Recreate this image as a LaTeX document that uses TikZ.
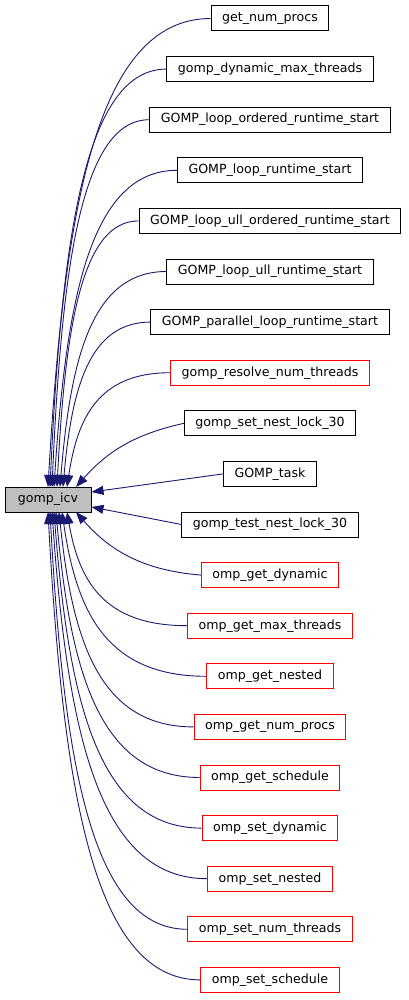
\documentclass[tikz,border=0pt]{standalone}
\usepackage{fontspec}
\setmainfont{DejaVu Sans}
\usetikzlibrary{calc,arrows.meta}
\definecolor{edgeblue}{HTML}{191970}

\begin{document}
\begin{tikzpicture}[x=1pt,y=-1pt,fn/.style = {draw=black, line width=1pt, minimum height=25pt, inner xsep=11pt, font=\fontsize{12.6}{15}\selectfont}, fnred/.style = {fn, draw=red}, edge/.style = {draw=edgeblue, line width=0.9pt, {Triangle[length=12pt,width=9pt]}-}]
\useasboundingbox (0,0) rectangle (408,1000);
\node (icv) [fn, fill=black!25, minimum width=86pt, inner xsep=0pt] at (48,499.5) {gomp\_icv};
\node (n1) [fn] at (270,18.5) {get\_num\_procs};
\node (n2) [fn] at (270,69.1) {gomp\_dynamic\_max\_threads};
\node (n3) [fn] at (270,119.7) {GOMP\_loop\_ordered\_runtime\_start};
\node (n4) [fn] at (270,170.3) {GOMP\_loop\_runtime\_start};
\node (n5) [fn] at (270,220.9) {GOMP\_loop\_ull\_ordered\_runtime\_start};
\node (n6) [fn] at (270,271.5) {GOMP\_loop\_ull\_runtime\_start};
\node (n7) [fn] at (270,322.1) {GOMP\_parallel\_loop\_runtime\_start};
\node (n8) [fnred] at (270,372.7) {gomp\_resolve\_num\_threads};
\node (n9) [fn] at (270,423.3) {gomp\_set\_nest\_lock\_30};
\node (n10) [fn] at (270,473.9) {GOMP\_task};
\node (n11) [fn] at (270,524.5) {gomp\_test\_nest\_lock\_30};
\node (n12) [fnred] at (270,575.1) {omp\_get\_dynamic};
\node (n13) [fnred] at (270,625.7) {omp\_get\_max\_threads};
\node (n14) [fnred] at (270,676.3) {omp\_get\_nested};
\node (n15) [fnred] at (270,726.9) {omp\_get\_num\_procs};
\node (n16) [fnred] at (270,777.5) {omp\_get\_schedule};
\node (n17) [fnred] at (270,828.1) {omp\_set\_dynamic};
\node (n18) [fnred] at (270,878.7) {omp\_set\_nested};
\node (n19) [fnred] at (270,929.3) {omp\_set\_num\_threads};
\node (n20) [fnred] at (270,979.9) {omp\_set\_schedule};
\foreach \from/\tx/\ty in {n1/48/487,n2/50/487,n3/52/487,n4/54/487,n5/57/487,n6/60/487,n7/63/487,n8/67/487,n13/67/512,n14/62/512,n15/59/512,n16/56/512,n17/54/512,n18/52/512,n19/50/512,n20/48/512}
\draw[edge] let \p1=(\from.west), \p2=(\tx,\ty) in (\p2) .. controls (0.9*\x2+0.1*\x1, 0.4*\y2+0.6*\y1) and (0.3*\x1+0.7*\x2, \y1) .. (\p1);
% near callers
\draw[edge] (76,487) to[bend left=18] (n9.west);
\draw[edge] (91.5,492) -- (n10.west);
\draw[edge] (91.5,507) -- (n11.west);
\draw[edge] (76,512) to[bend right=22] (n12.west);
\end{tikzpicture}
\end{document}
